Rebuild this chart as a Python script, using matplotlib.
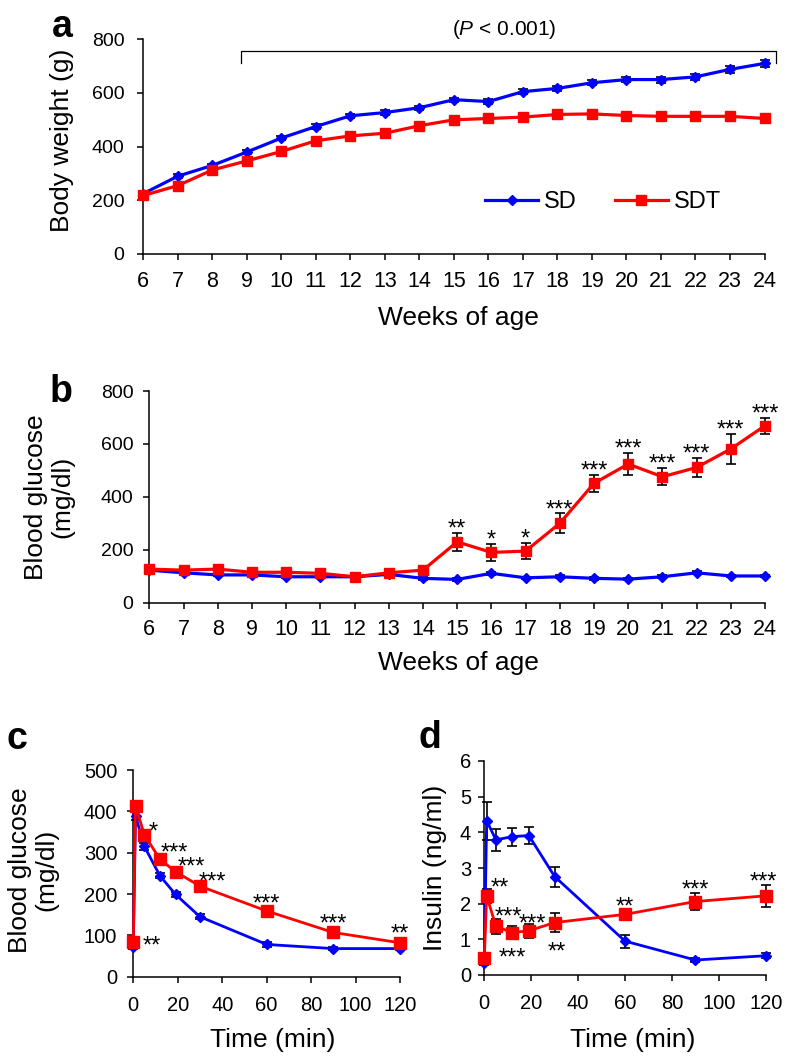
import matplotlib
matplotlib.use('Agg')
import matplotlib.pyplot as plt
from matplotlib.lines import Line2D

plt.rcParams.update({'font.family': ['Liberation Sans', 'DejaVu Sans'],
                     'mathtext.fontset': 'custom',
                     'mathtext.rm': 'Liberation Sans',
                     'mathtext.it': 'Liberation Sans:italic',
                     'axes.linewidth': 1.1,
                     'xtick.major.width': 1.1,
                     'ytick.major.width': 1.1,
                     'xtick.major.size': 4.5,
                     'ytick.major.size': 4.5,
                     'xtick.labelsize': 14.5,
                     'ytick.labelsize': 14.5})

BLUE = '#0000ff'
RED = '#ff0000'

# ---- data ----
weeks = [6, 7, 8, 9, 10, 11, 12, 13, 14, 15, 16, 17, 18, 19, 20, 21, 22, 23, 24]

bw_sd = [225, 290, 330, 380, 432, 475, 515, 527, 545, 575, 568, 605, 617, 638, 650, 650, 660, 688, 710]
bw_sd_err = [6, 7, 7, 8, 8, 8, 8, 8, 8, 8, 8, 8, 9, 10, 10, 11, 11, 12, 14]
bw_sdt = [218, 255, 313, 347, 382, 422, 440, 450, 478, 500, 505, 510, 520, 522, 516, 513, 513, 513, 505]
bw_sdt_err = [8, 8, 8, 8, 8, 8, 8, 8, 8, 8, 8, 8, 8, 8, 8, 8, 8, 8, 8]

bg_sd = [123, 113, 105, 105, 98, 98, 98, 107, 92, 88, 111, 94, 98, 92, 89, 98, 113, 101, 101]
bg_sd_err = [5, 5, 5, 5, 5, 5, 5, 5, 5, 5, 6, 5, 5, 5, 5, 5, 6, 5, 5]
bg_sdt = [127, 123, 127, 115, 115, 111, 98, 113, 123, 230, 190, 195, 300, 451, 524, 476, 511, 581, 669]
bg_sdt_err = [8, 8, 10, 8, 8, 8, 6, 8, 10, 33, 33, 30, 38, 32, 43, 33, 36, 57, 30]
bg_stars = ['', '', '', '', '', '', '', '', '', '**', '*', '*', '***', '***', '***', '***', '***', '***', '***']

time_min = [0, 1, 5, 12, 19, 30, 60, 90, 120]

gtt_sd = [73, 389, 315, 244, 199, 145, 78, 68, 68]
gtt_sd_err = [6, 10, 8, 6, 7, 6, 5, 3, 3]
gtt_sdt = [85, 413, 343, 284, 254, 219, 159, 107, 82]
gtt_sdt_err = [10, 10, 8, 7, 6, 6, 6, 6, 5]
gtt_star_x = [8.5, 9, 18.5, 26.3, 35.5, 60, 90, 120]
gtt_star_y = [93, 367, 318, 283, 248, 194, 145, 120]
gtt_star_txt = ['**', '*', '***', '***', '***', '***', '***', '**']

ins_sd = [0.35, 4.32, 3.79, 3.88, 3.91, 2.76, 0.95, 0.42, 0.54]
ins_sd_err = [0.08, 0.54, 0.30, 0.25, 0.25, 0.28, 0.18, 0.05, 0.07]
ins_sdt = [0.47, 2.22, 1.36, 1.19, 1.24, 1.47, 1.70, 2.06, 2.22]
ins_sdt_err = [0.08, 0.20, 0.20, 0.18, 0.20, 0.27, 0.10, 0.24, 0.30]
ins_star_x = [6.7, 10.2, 11.9, 20.6, 30.9, 60.1, 89.9, 119]
ins_star_y = [2.64, 1.82, 0.68, 1.64, 0.86, 2.10, 2.59, 2.80]
ins_star_txt = ['**', '***', '***', '***', '**', '**', '***', '***']

W, H = 786, 1059
fig = plt.figure(figsize=(W / 100, H / 100), dpi=100)


def px_axes(left, top, right, bottom):
    ax = fig.add_axes([left / W, 1 - bottom / H, (right - left) / W, (bottom - top) / H])
    ax.spines['top'].set_visible(False)
    ax.spines['right'].set_visible(False)
    return ax


def series(ax, x, y, err, color, marker, ms, lw):
    cont = ax.errorbar(x, y, yerr=err, color=color, lw=lw, marker=marker, ms=ms,
                       mec=color, ecolor='black', elinewidth=1.2, capsize=3.5,
                       capthick=1.2, zorder=3)
    for art in cont.get_children():
        art.set_clip_on(False)


def stars(ax, xs, ys, txt):
    for x, y, t in zip(xs, ys, txt):
        ax.annotate(t, (x, y), xytext=(0, -10), textcoords='offset points',
                    ha='center', va='baseline', fontsize=17, annotation_clip=False)


# ---- a: body weight ----
ax_a = px_axes(143.3, 39.3, 764.5, 254)
series(ax_a, weeks, bw_sd, bw_sd_err, BLUE, 'D', 5.5, 2.3)
series(ax_a, weeks, bw_sdt, bw_sdt_err, RED, 's', 7.8, 2.3)
ax_a.set_xlim(6, 24)
ax_a.set_ylim(0, 800)
ax_a.set_xticks(weeks)
ax_a.set_yticks([0, 200, 400, 600, 800])
ax_a.tick_params(axis='x', pad=7.5, labelsize=15.5)
ax_a.tick_params(axis='y', pad=9, labelsize=14)
ax_a.plot([8.84, 8.84, 24.34, 24.34], [712, 756, 756, 712], color='black', lw=0.9, clip_on=False)
ax_a.text(16.45, 837, r'($\it{P}$ < 0.001)', ha='center', va='center', fontsize=15)

handles = [Line2D([], [], color=BLUE, lw=2.3, marker='D', ms=5.5),
           Line2D([], [], color=RED, lw=2.3, marker='s', ms=7.8)]
fig.legend(handles, ['SD', 'SDT'], loc='center left', bbox_to_anchor=(485 / W, 1 - 202 / H),
           ncol=2, frameon=False, fontsize=17, handlelength=2.25, handletextpad=0.25,
           columnspacing=1.6, borderpad=0, borderaxespad=0)

# ---- b: blood glucose ----
ax_b = px_axes(149.3, 391, 765, 602.7)
series(ax_b, weeks, bg_sd, bg_sd_err, BLUE, 'D', 5.5, 2.3)
series(ax_b, weeks, bg_sdt, bg_sdt_err, RED, 's', 7.8, 2.3)
ax_b.set_xlim(6, 24)
ax_b.set_ylim(0, 800)
ax_b.set_xticks(weeks)
ax_b.set_yticks([0, 200, 400, 600, 800])
ax_b.tick_params(axis='x', pad=7, labelsize=15.5)
ax_b.tick_params(axis='y', pad=7, labelsize=14)
for w, v, e, s in zip(weeks, bg_sdt, bg_sdt_err, bg_stars):
    if s:
        ax_b.annotate(s, (w, v + e), xytext=(0, -2), textcoords='offset points',
                      ha='center', va='baseline', fontsize=17, annotation_clip=False)

# ---- c: glucose tolerance ----
ax_c = px_axes(133.3, 770, 400, 976.7)
series(ax_c, time_min, gtt_sd, gtt_sd_err, BLUE, 'D', 5.5, 2.0)
series(ax_c, time_min, gtt_sdt, gtt_sdt_err, RED, 's', 8, 2.0)
ax_c.set_xlim(0, 120)
ax_c.set_ylim(0, 500)
ax_c.set_xticks([0, 20, 40, 60, 80, 100, 120])
ax_c.set_yticks([0, 100, 200, 300, 400, 500])
ax_c.tick_params(axis='x', pad=9.5)
ax_c.tick_params(axis='y', pad=7)
stars(ax_c, gtt_star_x, gtt_star_y, gtt_star_txt)

# ---- d: insulin ----
ax_d = px_axes(484.3, 761, 765.7, 975)
series(ax_d, time_min, ins_sd, ins_sd_err, BLUE, 'D', 5.5, 2.0)
series(ax_d, time_min, ins_sdt, ins_sdt_err, RED, 's', 8, 2.0)
ax_d.set_xlim(0, 120)
ax_d.set_ylim(0, 6)
ax_d.set_xticks([0, 20, 40, 60, 80, 100, 120])
ax_d.set_yticks([0, 1, 2, 3, 4, 5, 6])
ax_d.tick_params(axis='x', pad=9.5)
ax_d.tick_params(axis='y', pad=5)
stars(ax_d, ins_star_x, ins_star_y, ins_star_txt)

# ---- labels ----
lab = dict(fontsize=19, ha='center', va='center')
fig.text(62 / W, 1 - 140 / H, 'Body weight (g)', rotation=90, **lab)
fig.text(49 / W, 1 - 497 / H, 'Blood glucose\n(mg/dl)', rotation=90, linespacing=1.1, **lab)
fig.text(33 / W, 1 - 870 / H, 'Blood glucose\n(mg/dl)', rotation=90, linespacing=1.1, **lab)
fig.text(435 / W, 1 - 868 / H, 'Insulin (ng/ml)', rotation=90, **lab)
fig.text(458 / W, 1 - 318 / H, 'Weeks of age', **lab)
fig.text(458 / W, 1 - 663 / H, 'Weeks of age', **lab)
fig.text(273 / W, 1 - 1040 / H, 'Time (min)', **lab)
fig.text(633 / W, 1 - 1040 / H, 'Time (min)', **lab)

for letter, x, y in [('a', 52, 37), ('b', 50, 402), ('c', 6, 749), ('d', 418, 748)]:
    fig.text(x / W, 1 - y / H, letter, fontsize=27, fontweight='bold', ha='left', va='baseline')

fig.savefig('out.png', dpi=100)
